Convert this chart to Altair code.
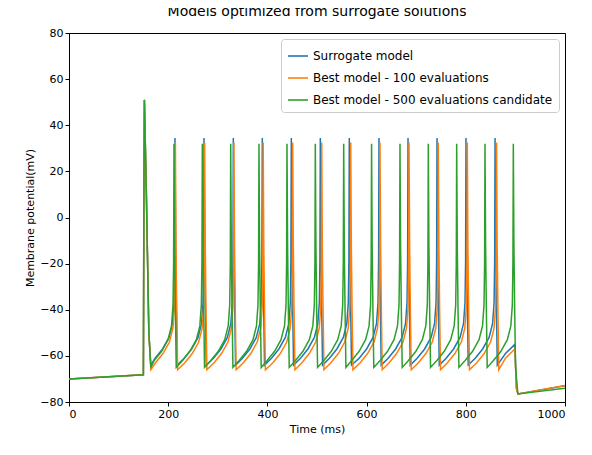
import altair as alt
import pandas as pd

# spike peak times (ms)
blue_peaks = [213.7, 272.2, 331.3, 389.7, 448.2, 506.7, 565.1, 625.0, 683.5, 742.0, 800.4, 859.0]
orange_peaks = [214.5, 273.5, 332.5, 391.5, 451.0, 509.5, 568.0, 627.0, 685.5, 744.5, 803.0, 862.0]
green_peaks = [211.7, 268.8, 326.0, 383.0, 439.5, 496.6, 553.8, 610.0, 667.3, 724.4, 781.6, 838.7, 895.8]

peak_mv = {"Surrogate model": 34.5, "Best model - 100 evaluations": 32.5,
           "Best model - 500 evaluations candidate": 32.0}
trough_mv = {"Surrogate model": -64.0, "Best model - 100 evaluations": -66.0,
             "Best model - 500 evaluations candidate": -65.0}
end_mv = {"Surrogate model": -55.0, "Best model - 100 evaluations": -57.0,
          "Best model - 500 evaluations candidate": None}
final_mv = {"Surrogate model": -73.0, "Best model - 100 evaluations": -72.8,
            "Best model - 500 evaluations candidate": -74.0}

# spike shape: offsets (ms) before the next peak and voltage above trough
rise_dt = [-40, -25, -12, -5, -2, -0.8]
rise_dv = [3, 7, 12, 18, 27, 45]
fall_dt = [1.2, 2.8, 4.5]
fall_dv = [0.55, 0.25, 0.0]  # fraction of peak-to-trough

names = list(peak_mv)
colors = ["#1f77b4", "#ff7f0e", "#2ca02c"]


def build(name, peaks):
    pk, tr = peak_mv[name], trough_mv[name]
    pts = [(0, -70.0), (150, -68.2), (151, 10.0), (152, 51.0), (156, 10.0), (161, -50.0), (165, tr)]
    for p in peaks:
        for dt, dv in zip(rise_dt, rise_dv):
            if p + dt > pts[-1][0]:
                pts.append((p + dt, tr + dv))
        pts.append((p, pk))
        for dt, f in zip(fall_dt, fall_dv):
            pts.append((p + dt, tr + f * (pk - tr)))
    if end_mv[name] is not None:
        pts.append((880, tr + 5))
        pts.append((899, end_mv[name]))
        pts.append((902, -74.0))
    pts.append((905, -76.5))
    pts.append((1000, final_mv[name]))
    return pd.DataFrame({"t": [a for a, _ in pts], "v": [b for _, b in pts], "s": name})


series = [build(names[0], blue_peaks), build(names[1], orange_peaks), build(names[2], green_peaks)]

color = alt.Color("s:N", scale=alt.Scale(domain=names, range=colors), sort=names,
                  legend=alt.Legend(title=None, orient="top-right", offset=6, strokeColor="#cccccc",
                                    fillColor="white", padding=6, cornerRadius=3, symbolType="stroke",
                                    symbolStrokeWidth=1.6, symbolSize=400, labelFontSize=12,
                                    labelLimit=0, rowPadding=5))

layers = []
for df in series:
    layers.append(
        alt.Chart(df).mark_line(strokeWidth=1.5, clip=True).encode(
            x=alt.X("t:Q", title="Time (ms)", scale=alt.Scale(domain=[0, 1000], nice=False),
                    axis=alt.Axis(values=[0, 200, 400, 600, 800, 1000], grid=False, format="d")),
            y=alt.Y("v:Q", title="Membrane potential(mV)", scale=alt.Scale(domain=[-80, 80], nice=False),
                    axis=alt.Axis(values=list(range(-80, 81, 20)), grid=False)),
            color=color,
            order=alt.Order("t:Q"),
        )
    )

chart = alt.layer(*layers).properties(
    width=496, height=369,
    title=alt.TitleParams("Models optimized from surrogate solutions", fontSize=14, fontWeight="normal",
                          font="DejaVu Sans", offset=8),
    autosize=alt.AutoSizeParams(type="none"),
    padding={"left": 61, "top": 25, "right": 19, "bottom": 45},
).configure_axis(
    labelFont="DejaVu Sans", titleFont="DejaVu Sans", labelFontSize=11, titleFontSize=11,
    titleFontWeight="normal", domainColor="black", tickColor="black", labelColor="black",
    titleColor="black", tickSize=4,
).configure_legend(labelFont="DejaVu Sans").configure_view(stroke="black")

chart.save("out.html", embed_options={"renderer": "svg", "actions": False})
